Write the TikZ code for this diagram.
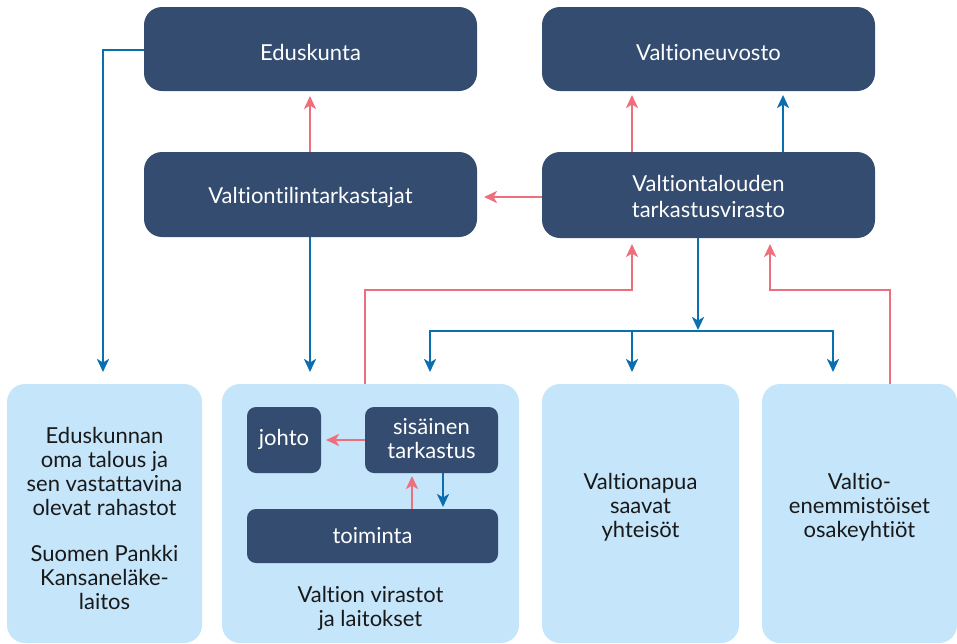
\documentclass[tikz,border=0pt]{standalone}
\usepackage{fontspec}
\setmainfont{Lato}[Ligatures={CommonOff,RareOff,ContextualOff}]
\usetikzlibrary{arrows.meta}
\definecolor{navy}{HTML}{344C70}
\definecolor{lightb}{HTML}{C5E5FA}
\definecolor{pinkc}{HTML}{EE6E7B}
\definecolor{bluec}{HTML}{0B6FAF}
\tikzset{
  darkbox/.style={fill=navy, rounded corners=18pt},
  smallbox/.style={fill=navy, rounded corners=9pt},
  wtext/.style={text=white, align=center, font=\fontsize{22}{26}\selectfont},
  lightbox/.style={fill=lightb, rounded corners=18pt},
  btext/.style={text=black!90, align=center, font=\fontsize{22}{24}\selectfont},
  arr/.style={line width=2.8pt, -{Stealth[length=13pt,width=12pt,inset=3.5pt]}},
  pinka/.style={arr, draw=pinkc},
  bluea/.style={arr, draw=bluec},
}
\begin{document}
\begin{tikzpicture}[x=1pt,y=-1pt]
\useasboundingbox (0,0) rectangle (957,643);
% top boxes
\path[darkbox] (144,7) rectangle (477,91);
\node[wtext] (edu) at (310.5,52) {Eduskunta};
\path[darkbox] (542,7) rectangle (875,91);
\node[wtext] (vn) at (708.5,52) {Valtioneuvosto};
\path[darkbox] (144,152) rectangle (477,237);
\node[wtext] (vtt) at (310.5,197) {Valtiontilintarkastajat};
\path[darkbox] (542,152) rectangle (875,238);
\node[wtext] (vtv) at (708.5,196) {Valtiontalouden\\tarkastusvirasto};
% bottom boxes
\path[lightbox] (7,384) rectangle (202,643);
\path[lightbox] (222,384) rectangle (519,643);
\path[lightbox] (542,384) rectangle (739,643);
\path[lightbox] (762,384) rectangle (957,643);
\node[btext] (b1) at (104.5,518) {Eduskunnan\\oma talous ja\\sen vastattavina\\olevat rahastot\\[22pt]Suomen Pankki\\Kansaneläke-\\laitos};
\node[btext] (b2) at (370.5,608) {Valtion virastot\\ja laitokset};
\node[btext] (b3) at (640.5,507) {Valtionapua\\saavat\\yhteisöt};
\node[btext] (b4) at (859.5,507) {Valtio-\\enemmistöiset\\osakeyhtiöt};
% inner boxes
\path[smallbox] (247,407) rectangle (321,473);
\node[wtext] (johto) at (284,439) {johto};
\path[smallbox] (365,407) rectangle (498,473);
\node[wtext, font=\fontsize{22}{24}\selectfont] (sis) at (431.5,439) {sisäinen\\tarkastus};
\path[smallbox] (247,509) rectangle (498,563);
\node[wtext] (toim) at (372.5,536) {toiminta};
% coordinates
\coordinate (eduL) at (144,50);
\coordinate (eduB) at (310,96);
\coordinate (vttT) at (310,152);
\coordinate (vttB) at (310,237);
\coordinate (b1T) at (103,372);
\coordinate (b2T) at (310,372);
\coordinate (vtvL) at (542,197);
\coordinate (vttR) at (484,197);
\coordinate (vtvTa) at (632,152);
\coordinate (vtvTb) at (783,152);
\coordinate (vnBa) at (632,95);
\coordinate (vnBb) at (783,95);
\coordinate (vtvBa) at (632,244);
\coordinate (vtvBb) at (770,244);
\coordinate (vtvBc) at (698,238);
\coordinate (junc) at (698,330);
\coordinate (b2top) at (365,384);
\coordinate (b4top) at (890,384);
% connectors
\draw[bluea] (eduL) -| (b1T);
\draw[pinka] (vttT) -- (eduB);
\draw[bluea] (vttB) -- (b2T);
\draw[pinka] (vtvL) -- (vttR);
\draw[pinka] (vtvTa) -- (vnBa);
\draw[bluea] (vtvTb) -- (vnBb);
\draw[pinka] (b2top) -- (365,290) -| (vtvBa);
\draw[pinka] (b4top) -- (890,290) -| (vtvBb);
\draw[bluea] (vtvBc) -- (junc);
\draw[line width=2.8pt, draw=bluec] (430,331) -- (833,331);
\draw[bluea] (430,329.6) -- (430,372);
\draw[bluea] (632,329.6) -- (632,372);
\draw[bluea] (833,329.6) -- (833,372);
% inner connectors
\draw[pinka] (365,440) -- (326,440);
\draw[pinka] (412,509) -- (412,476);
\draw[bluea] (443,473) -- (443,507);
\end{tikzpicture}
\end{document}
